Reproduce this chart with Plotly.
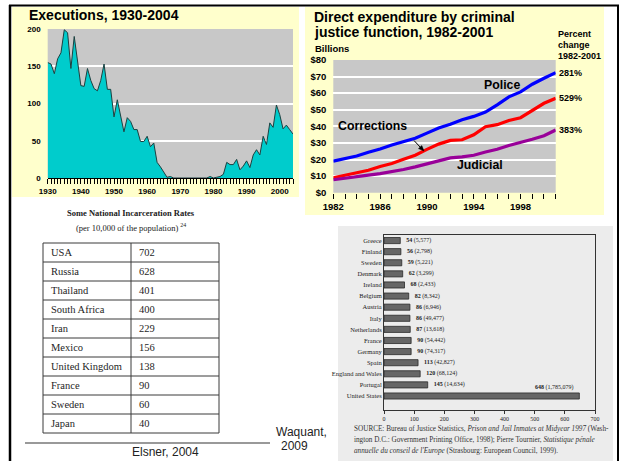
import plotly.graph_objects as go

W, H = 620, 461


def px(x):
    return x / W


def py(y):
    return 1 - y / H


# ---------------- data ----------------
exec_years = list(range(1930, 2005))
executions = [155, 153, 140, 160, 168, 199, 195, 147, 190, 160,
              124, 123, 147, 131, 120, 117, 131, 153, 119, 119,
              82, 105, 83, 62, 81, 76, 65, 65, 49, 49,
              56, 42, 47, 21, 15, 7, 1, 2, 0, 0,
              0, 0, 0, 0, 0, 0, 0, 1, 0, 2,
              0, 1, 2, 5, 21, 18, 18, 25, 11, 16,
              23, 14, 31, 38, 31, 56, 45, 74, 68, 98,
              85, 66, 71, 65, 59]
exec_ticks = [1930, 1940, 1950, 1960, 1970, 1980, 1990, 2000]

exp_years = list(range(1982, 2002))
police = [19.0, 20.6, 22.1, 24.4, 26.3, 28.8, 31.0, 32.8, 35.9, 39.0,
          41.3, 44.0, 46.0, 48.6, 53.0, 57.8, 60.8, 65.4, 69.0, 72.4]
corrections = [9.0, 10.4, 11.8, 13.5, 15.8, 17.6, 20.1, 22.6, 26.1, 29.3,
               31.5, 31.9, 34.9, 39.8, 41.0, 43.5, 45.2, 49.8, 53.9, 56.9]
judicial = [7.8, 8.6, 9.5, 10.6, 11.5, 12.6, 14.0, 15.6, 17.4, 19.3,
            21.0, 21.6, 22.6, 24.5, 26.2, 28.5, 30.1, 32.2, 34.3, 37.8]
exp_series = ["Police", "Corrections", "Judicial"]
pct_change = ["281%", "529%", "383%"]
exp_ticks = [1982, 1986, 1990, 1994, 1998]

table_countries = ["USA", "Russia", "Thailand", "South Africa", "Iran",
                   "Mexico", "United Kingdom", "France", "Sweden", "Japan"]
table_rates = ["702", "628", "401", "400", "229", "156", "138", "90", "60", "40"]

eu_countries = ["Greece", "Finland", "Sweden", "Denmark", "Ireland", "Belgium",
                "Austria", "Italy", "Netherlands", "France", "Germany", "Spain",
                "England and Wales", "Portugal", "United States"]
eu_rates = [54, 56, 59, 62, 68, 82, 86, 86, 87, 90, 90, 113, 120, 145, 648]
eu_prisoners = ["5,577", "2,798", "5,221", "3,299", "2,433", "8,342", "6,946",
                "49,477", "13,618", "54,442", "74,317", "42,827", "68,124",
                "14,634", "1,785,079"]
eu_ticks = [0, 100, 200, 300, 400, 500, 600, 700]

source_lines = [
    "SOURCE: Bureau of Justice Statistics, <i>Prison and Jail Inmates at Midyear 1997</i> (Wash-",
    "ington D.C.: Government Printing Office, 1998); Pierre Tournier, <i>Statistique pénale</i>",
    "<i>annuelle du conseil de l'Europe</i> (Strasbourg: European Council, 1999).",
]

# ---------------- styles ----------------
SANS = "Liberation Sans, Arial, sans-serif"
SERIF = "Liberation Serif, Times New Roman, serif"
YELLOW = "#FFFFCC"
PLOTGREY = "#C8C8C8"
series_colors = ["#0000FF", "#FF0000", "#990099"]

fig = go.Figure()

# Executions area
fig.add_trace(go.Scatter(
    x=exec_years, y=executions, mode="lines", fill="tozeroy",
    fillcolor="#00CCCC", line=dict(color="#1d4040", width=1),
    xaxis="x", yaxis="y", hoverinfo="skip", showlegend=False))

# Expenditure lines
for name, vals, col in zip(exp_series, [police, corrections, judicial], series_colors):
    fig.add_trace(go.Scatter(
        x=exp_years, y=vals, mode="lines", name=name,
        line=dict(color=col, width=3.2),
        xaxis="x2", yaxis="y2", showlegend=False))

# European incarceration bars
bar_text = [f"  <b>{r}</b> ({p})" for r, p in zip(eu_rates, eu_prisoners)]
bar_textpos = ["outside"] * (len(eu_rates) - 1) + ["none"]
fig.add_trace(go.Bar(
    x=eu_rates, y=eu_countries, orientation="h", xaxis="x3", yaxis="y3",
    width=0.55, marker=dict(color="#666666", line=dict(color="#2a2a2a", width=0.8)),
    text=bar_text, textposition=bar_textpos, constraintext="none", cliponaxis=False,
    textfont=dict(family=SERIF, size=6, color="#222222"), showlegend=False))

# ---------------- shapes ----------------
shapes = [
    dict(type="rect", xref="paper", yref="paper", x0=px(12), x1=px(299), y0=py(197), y1=py(7),
         fillcolor=YELLOW, line=dict(width=0), layer="below"),
    dict(type="rect", xref="paper", yref="paper", x0=px(305), x1=px(604), y0=py(215), y1=py(7),
         fillcolor=YELLOW, line=dict(width=0), layer="below"),
    dict(type="rect", xref="paper", yref="paper", x0=px(338), x1=px(613), y0=0, y1=py(226),
         fillcolor="#ececec", line=dict(width=0), layer="below"),
    dict(type="rect", xref="x domain", yref="y domain", x0=0, x1=1, y0=0, y1=1,
         fillcolor=PLOTGREY, line=dict(width=0), layer="below"),
    dict(type="rect", xref="x2 domain", yref="y2 domain", x0=0, x1=1, y0=0, y1=1,
         fillcolor=PLOTGREY, line=dict(width=0), layer="below"),
    # outer black frame
    dict(type="line", xref="paper", yref="paper", x0=px(10), x1=px(10), y0=0, y1=py(5),
         line=dict(color="black", width=2.5)),
    dict(type="line", xref="paper", yref="paper", x0=px(9), x1=px(619), y0=py(5.5), y1=py(5.5),
         line=dict(color="black", width=2)),
    dict(type="line", xref="paper", yref="paper", x0=px(618), x1=px(618), y0=0, y1=py(5),
         line=dict(color="black", width=2)),
    # rule above Elsner citation
    dict(type="line", xref="paper", yref="paper", x0=px(25), x1=px(270), y0=py(443), y1=py(443),
         line=dict(color="#777777", width=1.5)),
    # pointer from "Corrections" label to its line
    dict(type="line", xref="paper", yref="paper", x0=px(414), x1=px(421), y0=py(140.5), y1=py(148),
         line=dict(color="black", width=1)),
    dict(type="path", xref="paper", yref="paper",
         path=f"M {px(424)} {py(151)} L {px(418.5)} {py(148.6)} L {px(421.8)} {py(145.6)} Z",
         fillcolor="black", line=dict(color="black", width=0.5)),
]

# incarceration table grid (built from the table lists)
T_X0, T_XM, T_X1, T_Y0, ROW_H = 43, 131, 219, 243, 19
n_rows = len(table_countries)
for i in range(n_rows + 1):
    yy = T_Y0 + ROW_H * i
    shapes.append(dict(type="line", xref="paper", yref="paper", x0=px(T_X0), x1=px(T_X1),
                       y0=py(yy), y1=py(yy), line=dict(color="#3a3a3a", width=1)))
for xx in (T_X0, T_XM, T_X1):
    shapes.append(dict(type="line", xref="paper", yref="paper", x0=px(xx), x1=px(xx),
                       y0=py(T_Y0), y1=py(T_Y0 + ROW_H * n_rows),
                       line=dict(color="#3a3a3a", width=1)))

# ---------------- annotations ----------------
ann = []


def label(x, y, text, size, bold=False, family=SANS, xanchor="left", yanchor="middle", color="black"):
    ann.append(dict(xref="paper", yref="paper", x=px(x), y=py(y), text=text, showarrow=False,
                    xanchor=xanchor, yanchor=yanchor,
                    font=dict(family=family, size=size, color=color,
                              weight="bold" if bold else "normal")))


label(27, 15, "Executions, 1930-2004", 14, bold=True)
label(312, 17, "Direct expenditure by criminal", 14, bold=True)
label(312, 32, "justice function, 1982-2001", 14, bold=True)
label(313, 48, "Billions", 9.5, bold=True)
for i, t in enumerate(["Percent", "change", "1982-2001"]):
    label(556, 34 + 11.2 * i, t, 9, bold=True)

for vals, txt in zip([police, corrections, judicial], pct_change):
    ann.append(dict(xref="x2", yref="y2", x=exp_years[-1], y=vals[-1], text=txt,
                    showarrow=False, xanchor="left", xshift=1,
                    font=dict(family=SANS, size=9, color="black", weight="bold")))

label(502, 85, exp_series[0], 12.3, bold=True, xanchor="center")
label(372, 126, exp_series[1], 12.3, bold=True, xanchor="center")
label(480, 165, exp_series[2], 12.3, bold=True, xanchor="center")

# table texts
for i, (c, r) in enumerate(zip(table_countries, table_rates)):
    yc = T_Y0 + ROW_H * (i + 0.5)
    label(T_X0 + 6, yc, c, 10.5, family=SERIF, color="#1e1e1e")
    label(T_XM + 6, yc, r, 10.5, family=SERIF, color="#1e1e1e")

label(131, 213, "Some National Incarceration Rates", 8.5, bold=True, family=SERIF,
      xanchor="center", color="#222222")
label(131, 227, "(per 10,000 of the population) <sup>24</sup>", 8.5, family=SERIF,
      xanchor="center", color="#222222")
label(165, 452, "Elsner, 2004", 12, xanchor="center", color="#222222")
label(301, 432, "Waquant,", 12, xanchor="center", color="#222222")
label(294, 446, "2009", 12, xanchor="center", color="#222222")

ann.append(dict(xref="x3", yref="y3", x=eu_rates[-1], y=eu_countries[-1],
                text=f"<b>{eu_rates[-1]}</b> ({eu_prisoners[-1]})", showarrow=False,
                xanchor="right", yanchor="bottom", yshift=3, xshift=-3,
                font=dict(family=SERIF, size=6, color="#222222")))
for i, t in enumerate(source_lines):
    label(352, 429 + 11 * i, t, 7.2, family=SERIF, color="#333333")

# ---------------- layout ----------------
bold8 = dict(family=SANS, size=8, color="black", weight="bold")
bold9 = dict(family=SANS, size=9.5, color="black", weight="bold")
serif6 = dict(family=SERIF, size=6, color="#222222")

fig.update_layout(
    width=W, height=H, margin=dict(l=0, r=0, t=0, b=0, autoexpand=False),
    paper_bgcolor="white", plot_bgcolor="rgba(0,0,0,0)",
    showlegend=False, shapes=shapes, annotations=ann,
    xaxis=dict(domain=[px(47.7), px(293)], range=[1930, 2004], anchor="y",
               tickmode="array", tickvals=exec_ticks, ticks="outside", ticklen=5,
               tickcolor="black", tickwidth=1,
               minor=dict(dtick=1, tick0=1930, ticks="outside", ticklen=5,
                          tickcolor="black", tickwidth=1),
               showline=True, linecolor="black", linewidth=1, showgrid=False,
               zeroline=False, tickfont=bold8, fixedrange=True),
    yaxis=dict(domain=[py(178), py(29)], range=[0, 200], anchor="x",
               tickmode="array", tickvals=[0, 50, 100, 150, 200], ticks="",
               showgrid=True, gridcolor="white", gridwidth=2, zeroline=False,
               showline=False, tickfont=bold8, ticklabelstandoff=6, fixedrange=True),
    xaxis2=dict(domain=[px(333.3), px(555.7)], range=[1982, 2001], anchor="y2",
                tickmode="array", tickvals=exp_ticks, ticks="outside", ticklen=5,
                tickcolor="black", tickwidth=1.2,
                minor=dict(dtick=1, tick0=1982, ticks="outside", ticklen=5,
                           tickcolor="black", tickwidth=1.2),
                showline=False, showgrid=False, zeroline=False, tickfont=bold9,
                fixedrange=True),
    yaxis2=dict(domain=[py(192.7), py(60)], range=[0, 80], anchor="x2",
                dtick=10, tickprefix="$", ticks="", showgrid=True, gridcolor="white",
                gridwidth=2, zeroline=False, showline=False, tickfont=bold9,
                ticklabelstandoff=6, fixedrange=True),
    xaxis3=dict(domain=[px(384), px(595)], range=[0, 700], anchor="y3",
                tickmode="array", tickvals=eu_ticks, ticks="outside", ticklen=3,
                tickcolor="#333333", showline=True, mirror=True, linecolor="#333333",
                linewidth=1, showgrid=False, zeroline=False, tickfont=serif6,
                fixedrange=True),
    yaxis3=dict(domain=[py(410), py(235)], anchor="x3", type="category",
                categoryorder="array", categoryarray=eu_countries, autorange="reversed",
                ticks="", showline=True, mirror=True, linecolor="#333333", linewidth=1,
                showgrid=False, zeroline=False,
                tickfont=dict(family=SERIF, size=6.5, color="#222222"), fixedrange=True),
)

fig.write_html(
    "out.html",
    config={"displayModeBar": False},
    post_script="document.body.style.margin='0';document.body.style.padding='0';"
                "document.body.style.overflow='hidden';",
)
